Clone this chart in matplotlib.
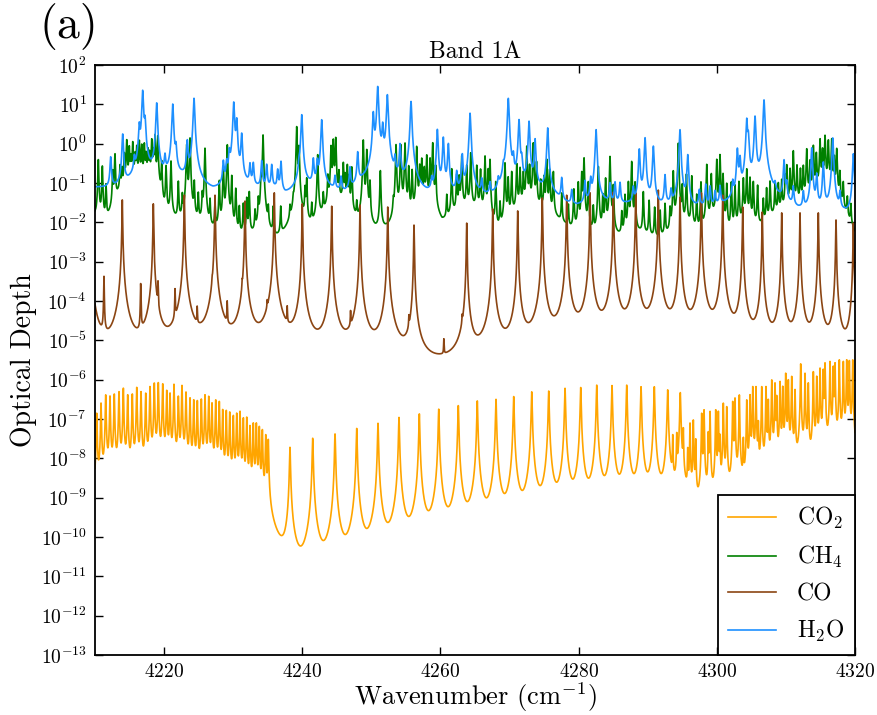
import numpy as np
import matplotlib
matplotlib.use('Agg')
import matplotlib.pyplot as plt
from matplotlib.ticker import FixedLocator, FuncFormatter, NullLocator

plt.rcParams['font.family'] = 'cmr10'
plt.rcParams['mathtext.fontset'] = 'cm'
plt.rcParams['axes.unicode_minus'] = False
plt.rcParams['axes.formatter.use_mathtext'] = True

# ---------------- data ----------------
# CO: line centres (cm^-1) and log10 peak optical depth
co_pos = [4209.3, 4213.95, 4218.44, 4222.93, 4227.37, 4231.71, 4235.95, 4240.00, 4244.26,
          4248.36, 4252.37, 4256.17, 4263.80, 4267.56, 4271.18, 4274.74, 4278.27, 4281.65,
          4285.02, 4288.26, 4291.53, 4294.67, 4297.76, 4300.85, 4303.75, 4306.58, 4309.39,
          4312.04, 4314.69, 4317.25, 4319.76]
co_logpk = [-1.5, -1.43, -1.53, -1.31, -1.31, -1.46, -1.25, -1.53, -1.59,
            -1.56, -1.61, -2.07, -2.02, -1.66, -1.71, -1.38, -1.31, -1.25,
            -1.23, -1.25, -1.18, -1.36, -1.25, -1.31, -1.61, -1.74, -1.76,
            -1.76, -1.76, -1.94, -2.02]
# weak CO (isotope) lines
co_weak_pos = [4211.30, 4216.61, 4219.12, 4221.58, 4221.60, 4224.79, 4226.96, 4229.13,
               4231.30, 4234.92, 4237.82, 4246.99, 4255.43, 4260.49, 4263.14]
co_weak_logpk = [-3.39, -3.59, -3.62, -3.85, -4.5, -4.35, -4.0, -4.15, -3.95,
                 -4.45, -4.35, -4.5, -4.7, -5.2, -4.8]

# CO2: dense band (left), regular progression, and blended lines (right)
co2_a_pos = [4210.25, 4210.87, 4211.55, 4212.17, 4212.79, 4213.47, 4214.10, 4214.73, 4215.40,
             4216.04, 4216.66, 4217.34, 4217.96, 4218.58, 4219.16, 4219.80, 4220.38, 4220.86,
             4221.43, 4222.06, 4222.59, 4223.17, 4223.75, 4224.29, 4224.81, 4225.39, 4225.92,
             4226.46, 4226.93, 4227.47, 4227.99, 4228.48, 4229.00, 4229.50, 4230.02, 4230.51,
             4230.99, 4231.47, 4231.96, 4232.43, 4232.91, 4233.35, 4233.78, 4234.22, 4234.71,
             4235.08]
co2_a_logpk = [-6.86, -6.60, -6.39, -6.42, -6.37, -6.31, -6.22, -6.39, -6.37,
               -6.20, -6.31, -6.35, -6.18, -6.09, -6.08, -6.11, -6.28, -6.35,
               -6.12, -6.43, -6.15, -6.32, -6.47, -6.52, -6.54, -6.50, -6.39,
               -6.43, -6.60, -6.52, -6.56, -6.77, -6.79, -6.83, -6.92, -6.86,
               -6.81, -6.98, -6.96, -7.18, -7.11, -7.11, -7.20, -7.28, -7.41,
               -7.53]
co2_b_pos = [4238.22, 4241.51, 4244.74, 4247.88, 4250.96, 4254.00, 4256.94, 4259.75, 4262.58,
             4265.33, 4268.04, 4270.60, 4273.21, 4275.67, 4278.03, 4280.30, 4282.62, 4284.83,
             4286.96, 4289.03, 4290.95, 4292.89, 4294.71]
co2_b_logpk = [-7.72, -7.49, -7.38, -7.24, -7.11, -6.96, -6.87, -6.75, -6.66,
               -6.54, -6.50, -6.43, -6.31, -6.29, -6.22, -6.20, -6.14, -6.15,
               -6.14, -6.18, -6.18, -6.26, -6.33]
co2_c_pos = [4293.62, 4294.20, 4295.15, 4295.79, 4296.12, 4296.60, 4296.95, 4297.81, 4298.15,
             4298.77, 4299.02, 4299.84, 4300.22, 4300.46, 4300.94, 4301.43, 4302.30, 4302.63,
             4303.26, 4303.84, 4304.33, 4304.81, 4305.20, 4305.67, 4306.01, 4306.50, 4307.12,
             4307.45, 4307.95, 4308.42, 4308.67, 4309.15, 4309.54, 4309.97, 4310.35, 4310.84,
             4311.32, 4312.14, 4312.77, 4313.24, 4313.97, 4314.46, 4314.94, 4315.41, 4315.66,
             4316.38, 4316.86, 4317.11, 4317.73, 4318.31, 4318.80, 4319.18, 4319.67]
co2_c_logpk = [-7.45, -7.41, -7.28, -7.79, -7.11, -7.03, -7.53, -6.86, -6.77,
               -7.36, -6.81, -6.77, -6.81, -7.45, -6.60, -6.69, -6.56, -6.47,
               -6.39, -7.53, -6.52, -6.39, -6.18, -6.18, -7.11, -6.18, -6.18,
               -6.52, -6.01, -6.09, -6.43, -6.05, -6.18, -5.84, -6.01, -5.92,
               -6.26, -5.60, -5.84, -6.09, -5.80, -5.92, -5.71, -5.75, -5.58,
               -5.54, -5.67, -5.58, -5.50, -5.54, -5.50, -5.52, -5.50]

# CH4: line centres, log10 peaks, and background level
ch4_pos = [4210.48, 4211.06, 4211.59, 4212.56, 4212.89, 4213.62, 4214.24, 4214.59, 4214.96,
           4215.46, 4216.04, 4216.41, 4216.76, 4217.14, 4217.67, 4218.21, 4218.68, 4219.08,
           4219.65, 4220.28, 4221.00, 4222.06, 4222.64, 4223.27, 4223.75, 4224.37, 4224.95,
           4225.53, 4225.92, 4226.65, 4227.37, 4227.99, 4228.57, 4229.15, 4229.79, 4230.37,
           4230.89, 4231.47, 4231.96, 4232.33, 4233.16, 4233.64, 4234.03, 4234.32, 4235.08,
           4235.81, 4236.88, 4238.22, 4238.70, 4239.19, 4239.53, 4240.40, 4240.64, 4241.37,
           4242.23, 4243.04, 4244.16, 4244.49, 4244.84, 4245.94, 4246.52, 4247.16, 4247.88,
           4248.83, 4249.33, 4251.30, 4253.18, 4253.57, 4254.25, 4254.87, 4256.56, 4257.29,
           4258.01, 4258.49, 4258.88, 4260.91, 4261.63, 4262.35, 4263.08, 4263.80, 4264.38,
           4265.25, 4266.45, 4267.17, 4268.62, 4269.34, 4270.31, 4271.04, 4271.52, 4272.49,
           4273.44, 4274.51, 4275.38, 4276.34, 4277.55, 4278.51, 4279.95, 4280.45, 4280.78,
           4282.12, 4282.85, 4283.49, 4284.54, 4285.02, 4286.24, 4286.71, 4287.68, 4288.16,
           4289.36, 4293.23, 4293.70, 4294.43, 4296.37, 4297.09, 4298.54, 4299.99, 4300.46,
           4301.43, 4302.63, 4303.84, 4304.33, 4305.28, 4306.73, 4307.70, 4308.42, 4309.39,
           4310.12, 4311.07, 4312.52, 4313.01, 4313.97, 4314.94, 4315.66, 4316.14, 4316.63,
           4317.35, 4318.89]
ch4_logpk = [-0.42, -0.59, -1.09, -0.75, -0.29, -0.67, -0.33, 0.05, -0.16,
             -0.03, -0.16, 0.01, -0.12, -0.08, -0.25, 0.05, 0.18, 0.16,
             -0.50, -0.59, -0.46, -1.01, -1.43, -0.03, 0.14, -1.01, -1.35,
             -1.39, -0.12, -1.52, -1.64, -0.97, -0.59, -0.03, -0.84, -1.18,
             -1.69, -1.60, -1.43, -1.26, -1.86, -1.52, -0.92, 0.22, -1.77,
             -1.69, -1.69, -1.86, -1.77, 0.43, -0.08, -1.18, -0.92, -1.69,
             -0.29, -1.43, -0.08, 0.09, 0.14, -0.54, -0.59, -0.63, -1.69,
             0.09, -0.16, -0.70, -1.69, -0.03, -0.03, 0.01, -0.08, -0.42,
             -0.33, -0.42, 0.01, -1.43, -0.67, -0.84, -0.33, -0.59, -0.25,
             -0.59, -0.33, -0.42, -1.60, -0.50, -0.75, -0.54, -0.67, -0.08,
             0.01, -1.01, -0.42, -0.75, -1.35, -1.69, -1.01, -0.75, -0.37,
             -1.69, -0.59, -1.35, -0.33, -1.09, -1.86, -1.35, -0.46, -1.01,
             -1.26, -1.77, -0.71, 0.01, -0.84, -1.35, -0.54, -0.42, -0.29,
             -1.05, -1.09, -0.92, -0.67, -1.01, -1.52, -1.01, -1.09, -1.01,
             -0.59, -0.20, -0.63, -0.16, -0.08, 0.09, 0.18, 0.05, 0.09,
             -0.16, -1.52]
# weaker CH4 features filling the dense parts of the band
ch4_weak_pos = [4213.90, 4215.20, 4215.80, 4217.40, 4217.90, 4218.45, 4243.70, 4245.30, 4246.20,
                4246.80, 4249.80, 4255.40, 4255.90, 4257.00, 4257.65, 4259.30, 4262.70, 4265.80,
                4266.90, 4268.00, 4269.80, 4272.00, 4272.90, 4273.90, 4275.00, 4275.80, 4279.30,
                4281.40, 4283.90, 4287.20, 4290.20, 4291.00, 4291.80, 4292.50, 4295.00, 4295.60,
                4297.70, 4299.20, 4300.90, 4302.10, 4303.20, 4304.80, 4305.90, 4307.20, 4308.90,
                4309.90, 4310.60, 4311.60, 4312.10, 4313.50, 4314.40, 4315.30, 4317.00, 4317.80,
                4318.30, 4319.40]
ch4_weak_logpk = [-0.8, -0.5, -0.4, -0.4, -0.35, -0.3, -0.9, -0.8, -0.9,
                  -0.9, -1.0, -0.6, -0.7, -0.6, -0.7, -0.6, -0.9, -0.7,
                  -0.7, -1.0, -0.9, -0.8, -0.6, -0.5, -0.9, -0.7, -1.2,
                  -1.0, -0.9, -1.0, -1.5, -1.7, -1.8, -1.6, -1.1, -0.8,
                  -1.0, -0.8, -0.8, -1.0, -1.0, -0.9, -1.1, -1.2, -1.1,
                  -0.9, -0.7, -0.6, -0.7, -0.5, -0.3, -0.2, -0.4, -0.8,
                  -1.1, -1.7]
ch4_bg_wn = [4210.00, 4211.45, 4213.33, 4215.07, 4217.24, 4219.12, 4220.13, 4222.30, 4225.20,
             4228.09, 4232.72, 4236.20, 4238.22, 4241.55, 4244.01, 4246.18, 4248.36, 4250.53,
             4252.70, 4255.88, 4257.76, 4260.22, 4262.83, 4265.72, 4268.19, 4271.52, 4275.86,
             4279.04, 4281.65, 4285.70, 4288.88, 4291.34, 4293.23, 4295.83, 4297.57, 4299.74,
             4301.91, 4304.08, 4305.96, 4309.15, 4312.04, 4314.21, 4316.38, 4318.12, 4320.00]
ch4_bg_log = [-1.9, -2.2, -1.3, -0.85, -0.8, -0.95, -2.0, -2.2, -2.3,
              -2.5, -2.65, -2.8, -2.45, -2.3, -1.6, -1.5, -2.3, -2.45,
              -2.35, -2.2, -1.4, -2.1, -1.7, -1.7, -2.45, -1.6, -1.8,
              -2.25, -2.45, -2.5, -2.35, -2.5, -2.45, -2.2, -2.45, -1.85,
              -2.55, -1.9, -2.2, -1.7, -1.6, -1.2, -1.05, -1.6, -2.4]

# H2O: line centres, log10 peaks, and background level
h2o_pos = [4212.27, 4214.01, 4215.69, 4216.41, 4216.90, 4217.24, 4218.93, 4220.13, 4221.25,
           4221.72, 4223.36, 4224.33, 4228.57, 4229.06, 4229.44, 4230.08, 4230.51, 4231.23,
           4232.43, 4232.91, 4234.13, 4234.85, 4235.58, 4236.44, 4236.92, 4239.53, 4239.92,
           4241.60, 4242.18, 4242.81, 4244.74, 4245.61, 4246.91, 4248.02, 4250.28, 4250.92,
           4251.64, 4252.31, 4253.42, 4254.15, 4255.74, 4258.73, 4259.55, 4260.41, 4261.14,
           4262.35, 4263.16, 4264.28, 4265.97, 4267.17, 4268.37, 4269.10, 4269.82, 4270.55,
           4271.37, 4271.76, 4272.82, 4273.69, 4275.52, 4277.55, 4279.00, 4280.92, 4281.75,
           4282.52, 4284.54, 4285.27, 4285.99, 4287.91, 4288.78, 4289.61, 4290.81, 4292.50,
           4293.37, 4294.67, 4295.79, 4297.47, 4298.39, 4299.02, 4299.74, 4300.46, 4302.30,
           4302.97, 4303.36, 4304.33, 4304.56, 4305.53, 4306.83, 4308.42, 4309.73, 4310.12,
           4311.07, 4312.52, 4313.74, 4314.46, 4315.41, 4316.78, 4317.83, 4319.76]
h2o_logpk = [-0.42, 0.22, -0.58, 0.43, 1.35, 0.56, 1.03, -0.50, 1.00,
             -0.20, 0.01, 1.15, -0.59, -0.67, -0.33, 1.05, 0.60, 0.22,
             -0.67, -0.63, -0.54, -0.67, -0.67, -0.84, -0.54, -0.84, 0.73,
             -0.50, -0.59, 0.60, -1.10, -1.10, -0.75, -0.29, 0.77, 1.45,
             0.43, 1.24, -0.54, -0.08, 1.07, -1.18, 0.35, 0.14, -0.03,
             -0.88, -0.33, 0.77, -1.14, -1.31, -1.26, -0.92, 1.15, -0.46,
             0.60, -0.54, 0.56, 0.09, 0.39, -1.01, -1.43, -1.09, -1.05,
             0.35, -1.18, -1.14, -1.15, -1.35, -0.16, 0.14, -0.08, -0.88,
             -1.43, 0.35, -0.31, -1.39, -1.18, -1.26, -1.47, -1.26, -1.18,
             -0.16, -0.42, 0.62, 0.18, 0.69, 1.11, -1.47, -0.46, -1.18,
             -1.26, -1.43, -0.12, -0.84, -0.50, 0.14, -1.43, -0.27]
h2o_bg_wn = [4210.00, 4212.89, 4214.78, 4217.96, 4222.59, 4227.08, 4232.00, 4236.05, 4237.50,
             4240.82, 4243.71, 4246.18, 4248.65, 4254.87, 4256.60, 4258.05, 4262.11, 4266.74,
             4267.90, 4274.41, 4276.73, 4278.03, 4279.77, 4283.39, 4287.01, 4292.08, 4296.57,
             4301.19, 4307.70, 4311.75, 4318.84, 4320.00]
h2o_bg_log = [-1.15, -1.2, -1.15, -1.0, -1.0, -1.35, -1.2, -1.2, -1.38,
              -1.15, -1.22, -1.38, -1.15, -1.2, -1.35, -1.48, -1.4, -1.52,
              -1.57, -1.28, -1.44, -1.6, -1.68, -1.55, -1.6, -1.68, -1.72,
              -1.67, -1.47, -1.8, -1.85, -1.8]

# Lorentz half widths (cm^-1); CO2 wings are tapered (sub-Lorentzian) beyond a few cm^-1
gam_co, gam_co2a, gam_co2b, gam_co2c, gam_ch4, gam_h2o = 0.035, 0.045, 0.055, 0.035, 0.055, 0.09
co2_wing_taper = 5.0

# ---------------- build spectra ----------------
allpos = np.concatenate([co_pos, co_weak_pos, co2_a_pos, co2_b_pos, co2_c_pos,
                         ch4_pos, ch4_weak_pos, h2o_pos])
wn = np.unique(np.concatenate([np.arange(4205.0, 4325.0, 0.002), allpos]))


def lines(pos, logpk, gam, taper=None):
    out = np.zeros_like(wn)
    g2 = gam * gam
    for p, lp in zip(pos, logpk):
        d = wn - p
        prof = g2 / (d * d + g2)
        if taper is not None:
            prof *= np.exp(-(d / taper) ** 2)
        out += 10.0 ** lp * prof
    return out


tau_co = lines(co_pos, co_logpk, gam_co) + lines(co_weak_pos, co_weak_logpk, gam_co)
tau_co2 = (lines(co2_a_pos, co2_a_logpk, gam_co2a, co2_wing_taper)
           + lines(co2_b_pos, co2_b_logpk, gam_co2b, co2_wing_taper)
           + lines(co2_c_pos, co2_c_logpk, gam_co2c, co2_wing_taper))
tau_ch4 = (lines(ch4_pos, ch4_logpk, gam_ch4) + lines(ch4_weak_pos, ch4_weak_logpk, gam_ch4)
           + 10.0 ** np.interp(wn, ch4_bg_wn, ch4_bg_log))
tau_h2o = lines(h2o_pos, h2o_logpk, gam_h2o) + 10.0 ** np.interp(wn, h2o_bg_wn, h2o_bg_log)

# ---------------- plot ----------------
fig = plt.figure(figsize=(8.77, 7.15), dpi=100)
ax = fig.add_axes([95 / 877, 60 / 715, 760 / 877, 590 / 715])

lw = 1.2
ax.plot(wn, tau_co2, color='#FFA500', lw=lw, label='CO$_2$')
ax.plot(wn, tau_ch4, color='#008000', lw=lw, label='CH$_4$')
ax.plot(wn, tau_co, color='#8B4513', lw=lw, label='CO')
ax.plot(wn, tau_h2o, color='#1E90FF', lw=lw, label='H$_2$O')

ax.set_yscale('log')
ax.set_xlim(4210, 4320)
ax.set_ylim(1e-13, 1e2)
ax.yaxis.set_major_locator(FixedLocator([10.0 ** k for k in range(-13, 3)]))
ax.yaxis.set_minor_locator(NullLocator())
ax.yaxis.set_major_formatter(FuncFormatter(lambda v, p: r'$10^{%d}$' % int(round(np.log10(v)))))
ax.set_xticks([4220, 4240, 4260, 4280, 4300, 4320])
ax.xaxis.set_minor_locator(NullLocator())
ax.tick_params(which='major', direction='in', length=6, width=1, top=True, right=True,
               labelsize=14, pad=6)
for s in ax.spines.values():
    s.set_linewidth(1.3)

ax.set_title('Band 1A', fontsize=17, pad=5)
ax.set_xlabel(r'Wavenumber $(\mathrm{cm}^{-1})$', fontsize=19, labelpad=-1)
ax.set_ylabel('Optical Depth', fontsize=20, labelpad=3)
fig.text(40 / 877, 1 - 3 / 715, '(a)', fontsize=33, ha='left', va='top')

leg = ax.legend(loc='lower right', fontsize=17, frameon=True, fancybox=False,
                edgecolor='black', framealpha=1, borderaxespad=0, handlelength=2.0,
                handletextpad=0.9, labelspacing=0.55, borderpad=0.45)
leg.get_frame().set_linewidth(1.3)

fig.savefig('out.png', dpi=100)
